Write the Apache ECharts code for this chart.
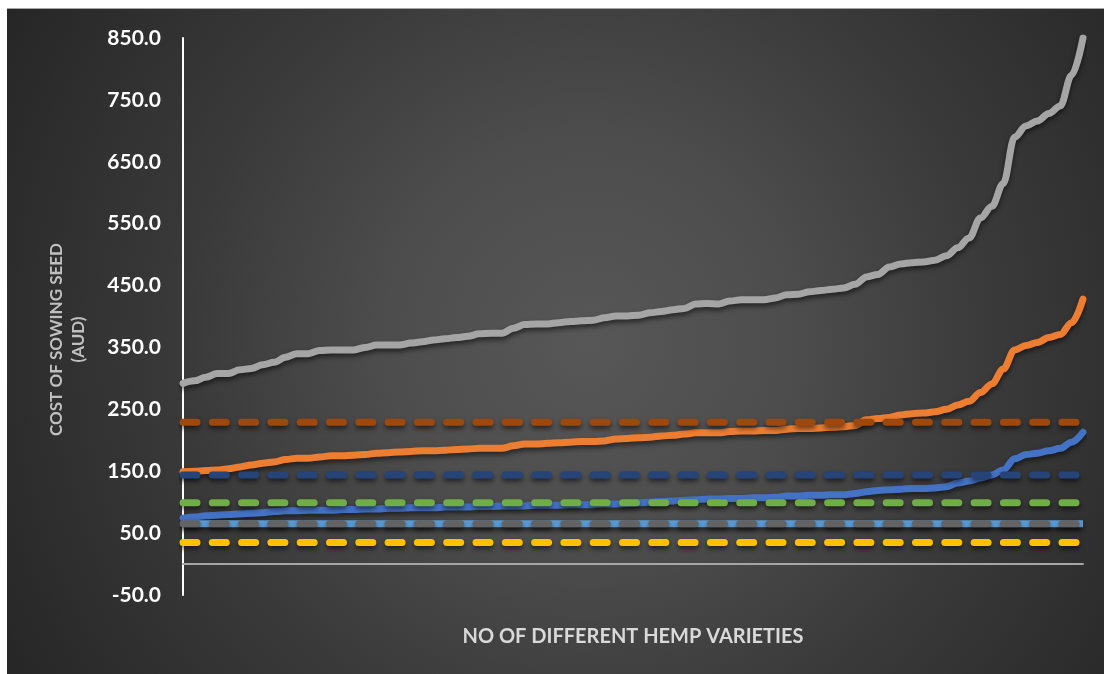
<!DOCTYPE html>
<html>
<head>
<meta charset="utf-8">
<title>Cost of sowing seed</title>
<script src="https://cdn.jsdelivr.net/npm/echarts@6/dist/echarts.min.js"></script>
<style>
  html, body { margin: 0; padding: 0; background: #ffffff; }
  #chart {
    position: absolute;
    left: 7px; top: 8px;
    width: 1097px; height: 666px;
    border-top: 1px solid #a6a6a6;
    background: radial-gradient(circle at 53% 50%, #575757 0%, #4d4d4d 30%, #3a3a3a 60%, #262626 100%);
  }
</style>
</head>
<body>
<div id="chart"></div>
<script>
// 80 hemp varieties, sorted by cost
const varieties = Array.from({ length: 80 }, (_, i) => String(i + 1));

// solid lines (cost of sowing seed, AUD)
const costBlue = [74, 76, 78, 79, 80, 81, 82, 83, 85, 86,
  86, 87, 87, 87, 88, 88, 89, 89, 90, 90,
  91, 91, 91, 92, 92, 92, 93, 93, 94, 94,
  94, 95, 95, 95, 96, 96, 96, 97, 97, 98,
  99, 100, 101, 102, 103, 104, 105, 105, 106, 106,
  107, 107, 108, 110, 110, 111, 111, 112, 112, 114,
  117, 119, 120, 121, 122, 122, 123, 125, 131, 134,
  139, 144, 152, 170, 177, 179, 183, 187, 197, 213];

const costOrange = [149, 150, 151, 152, 154, 157, 160, 163, 165, 169,
  171, 171, 173, 175, 175, 176, 177, 179, 180, 181,
  182, 183, 183, 184, 185, 186, 187, 187, 187, 191,
  194, 194, 195, 196, 197, 198, 198, 199, 202, 203,
  204, 205, 207, 208, 210, 212, 212, 212, 214, 215,
  215, 216, 216, 218, 219, 219, 220, 221, 222, 224,
  233, 235, 237, 241, 243, 244, 246, 250, 257, 263,
  277, 291, 315, 346, 353, 358, 366, 371, 390, 428];

const costGray = [292, 296, 302, 308, 308, 314, 316, 322, 326, 334,
  340, 340, 345, 346, 346, 346, 350, 354, 354, 354,
  357, 359, 362, 364, 366, 368, 372, 373, 373, 381,
  387, 388, 388, 390, 392, 393, 394, 398, 401, 401,
  402, 406, 408, 411, 413, 420, 421, 420, 425, 427,
  427, 427, 430, 435, 436, 440, 442, 444, 446, 452,
  464, 468, 480, 485, 487, 488, 491, 498, 511, 527,
  559, 578, 615, 690, 708, 716, 728, 740, 790, 850];

// flat dashed reference levels
const levelYellow = 35;
const levelLightBlue = 65;
const levelGreen = 99;
const levelDarkBlue = 144;
const levelBrown = 229;
const levelDarkGray = 65;

const chart = echarts.init(document.getElementById('chart'));

const shadow = { shadowColor: 'rgba(0,0,0,0.55)', shadowBlur: 5, shadowOffsetY: 3 };

function solid(name, data, color) {
  return {
    name: name, type: 'line', data: data,
    showSymbol: false, smooth: 0.35, smoothMonotone: 'x',
    lineStyle: Object.assign({ color: color, width: 7, cap: 'round', join: 'round' }, shadow)
  };
}

function level(name, value, color, dashed) {
  const last = varieties.length - 1;
  return {
    name: name, type: 'line',
    data: [[0, value], [last, value]],
    showSymbol: false,
    lineStyle: Object.assign({
      color: color, width: 7, cap: dashed ? 'round' : 'butt',
      type: dashed ? [14, 15.3] : 'solid'
    }, shadow)
  };
}

const option = {
  animation: false,
  backgroundColor: 'transparent',
  grid: { left: 176, right: 21, top: 29, bottom: 80, outerBoundsMode: 'none' },
  xAxis: {
    type: 'category',
    data: varieties,
    boundaryGap: false,
    name: 'NO OF DIFFERENT HEMP VARIETIES',
    nameLocation: 'middle',
    nameGap: 32,
    nameTextStyle: { color: '#d9d9d9', fontSize: 20, fontWeight: 'bold', fontFamily: 'Lato', verticalAlign: 'top' },
    axisLine: { onZero: true, lineStyle: { color: '#a6a6a6', width: 2 } },
    axisTick: { show: false },
    axisLabel: { show: false },
    splitLine: { show: false }
  },
  yAxis: {
    type: 'value',
    min: -50, max: 850, interval: 100,
    name: 'COST OF SOWING SEED\n(AUD)',
    nameLocation: 'middle',
    nameRotate: 90,
    nameGap: 93,
    nameTextStyle: {
      color: '#bfbfbf', fontSize: 17, fontWeight: 'bold', fontFamily: 'Lato',
      lineHeight: 22, align: 'center', padding: [0, 46, 0, 0]
    },
    axisLine: { show: true, lineStyle: { color: '#ffffff', width: 2 } },
    axisTick: { show: false },
    splitLine: { show: false },
    axisLabel: {
      color: '#ffffff', fontSize: 21, fontWeight: 'bold', fontFamily: 'Lato', margin: 22,
      formatter: function (v) { return v.toFixed(1); }
    }
  },
  series: [
    solid('Variety cost A', costBlue, '#4472C4'),
    solid('Variety cost B', costOrange, '#ED7D31'),
    solid('Variety cost C', costGray, '#A5A5A5'),
    level('Level 1', levelYellow, '#FFC000', true),
    level('Level 2', levelLightBlue, '#5B9BD5', false),
    level('Level 3', levelGreen, '#70AD47', true),
    level('Level 4', levelDarkBlue, '#264478', true),
    level('Level 5', levelBrown, '#9E480E', true),
    level('Level 6', levelDarkGray, '#636363', true)
  ]
};

chart.setOption(option);
</script>
</body>
</html>
